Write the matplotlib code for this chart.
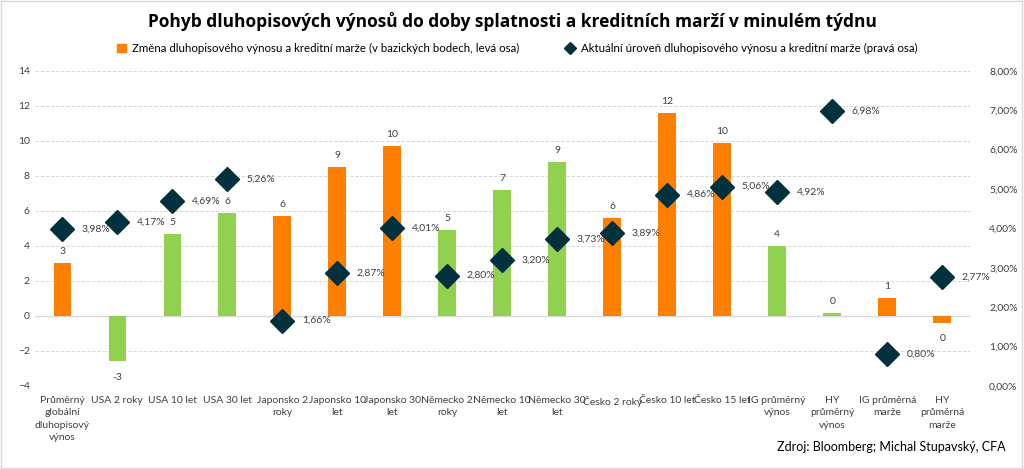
import math
import matplotlib.pyplot as plt
from matplotlib.lines import Line2D
from matplotlib.patches import Patch

plt.rcParams['font.family'] = ['Lato', 'DejaVu Sans']

# data
categories = ['Průměrný\nglobální\ndluhopisový\nvýnos', 'USA 2 roky', 'USA 10 let', 'USA 30 let',
              'Japonsko 2\nroky', 'Japonsko 10\nlet', 'Japonsko 30\nlet', 'Německo 2\nroky',
              'Německo 10\nlet', 'Německo 30\nlet', 'Česko 2 roky', 'Česko 10 let', 'Česko 15 let',
              'IG průměrný\nvýnos', 'HY\nprůměrný\nvýnos', 'IG průměrná\nmarže', 'HY\nprůměrná\nmarže']
change_bp = [3.0, -2.6, 4.7, 5.9, 5.7, 8.5, 9.7, 4.9, 7.2, 8.8, 5.6, 11.6, 9.9, 4.0, 0.17, 1.0, -0.4]
bar_colors = ['o', 'g', 'g', 'g', 'o', 'o', 'o', 'g', 'g', 'g', 'o', 'o', 'o', 'g', 'g', 'o', 'o']
level_pct = [3.98, 4.17, 4.69, 5.26, 1.66, 2.87, 4.01, 2.80, 3.20, 3.73, 3.89, 4.86, 5.06, 4.92, 6.98, 0.80, 2.77]

ORANGE = '#FF8000'
GREEN = '#92D050'
DARK = '#00313C'
TXT = '#404040'
cmap = {'o': ORANGE, 'g': GREEN}


def round_half_up(v):
    r = math.floor(abs(v) + 0.5)
    return r if v >= 0 or r == 0 else -r


fig = plt.figure(figsize=(10.24, 4.69), dpi=100)
ax = fig.add_axes([0.034, 0.177, 0.913, 0.672])
ax2 = ax.twinx()

x = list(range(len(categories)))
ax.bar(x, change_bp, width=0.32, color=[cmap[c] for c in bar_colors], zorder=2)
ax.set_ylim(-4, 14)
ax.set_yticks(range(-4, 15, 2))
ax.set_xlim(-0.5, len(categories) - 0.5)
ax.set_xticks(x)
ax.set_xticklabels(categories, fontsize=7.5, color=TXT, linespacing=1.5)
ax.tick_params(axis='both', length=0, labelsize=7.5, labelcolor=TXT)
ax.tick_params(axis='x', pad=7)
ax.grid(axis='y', color='#D9D9D9', linestyle='--', linewidth=0.7, zorder=0)
ax.axhline(0, color='#D9D9D9', linewidth=1, zorder=1)
for s in ax.spines.values():
    s.set_visible(False)

for xi, v in zip(x, change_bp):
    label = str(round_half_up(v))
    if v >= 0:
        ax.annotate(label, (xi, v), xytext=(0, 5), textcoords='offset points',
                    ha='center', va='bottom', fontsize=7.5, color=TXT)
    else:
        ax.annotate(label, (xi, v), xytext=(0, -8), textcoords='offset points',
                    ha='center', va='top', fontsize=7.5, color=TXT)

ax2.plot(x, level_pct, linestyle='none', marker='D', markersize=12, color=DARK, zorder=3)
ax2.set_ylim(0, 8)
ax2.set_yticks(range(0, 9))
ax2.set_yticklabels([f'{v},00%' for v in range(0, 9)])
ax2.tick_params(axis='y', length=0, labelsize=7.5, labelcolor=TXT, pad=14)
for s in ax2.spines.values():
    s.set_visible(False)
for xi, v in zip(x, level_pct):
    ax2.annotate(f'{v:.2f}%'.replace('.', ','), (xi, v), xytext=(14, 0), textcoords='offset points',
                 ha='left', va='center', fontsize=7.5, color=TXT)

fig.suptitle('Pohyb dluhopisových výnosů do doby splatnosti a kreditních marží v minulém týdnu',
             y=0.975, fontsize=12.5, fontweight='bold', color='#000000', family=['Open Sans', 'DejaVu Sans'])

handles = [Patch(color=ORANGE),
           Line2D([], [], linestyle='none', marker='D', markersize=6, color=DARK)]
labels = ['Změna dluhopisového výnosu a kreditní marže (v bazických bodech, levá osa)',
          'Aktuální úroveň dluhopisového výnosu a kreditní marže (pravá osa)']
fig.legend(handles, labels, loc='center', bbox_to_anchor=(0.505, 0.897), ncol=2, frameon=False,
           prop={'size': 8.3}, handlelength=0.8, handletextpad=0.5, columnspacing=4)

fig.text(0.982, 0.035, 'Zdroj: Bloomberg; Michal Stupavský, CFA', ha='right', va='bottom',
         fontsize=9, color='#000000')

fig.patches.append(plt.Rectangle((0.001, 0.002), 0.997, 0.995, transform=fig.transFigure,
                                 fill=False, edgecolor='#D9D9D9', linewidth=1))

fig.savefig('out.png', dpi=100)
